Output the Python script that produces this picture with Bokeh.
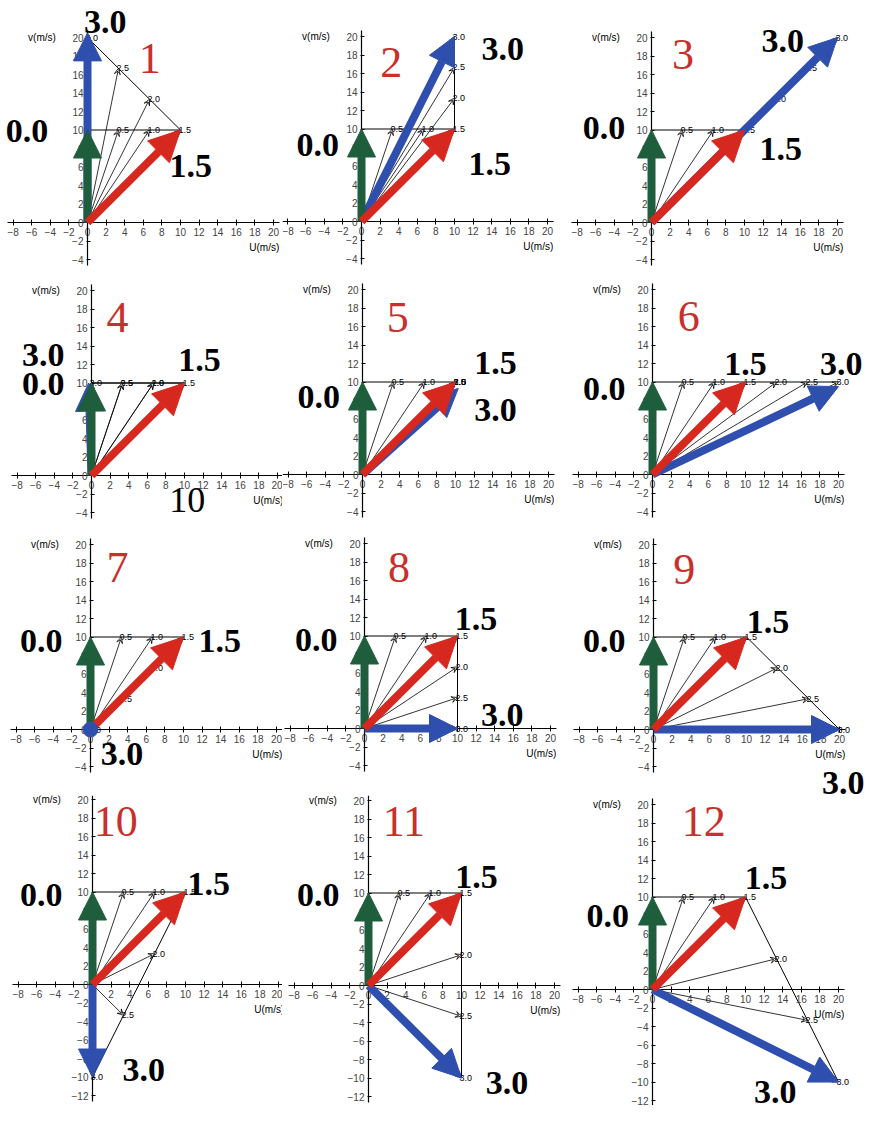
from bokeh.plotting import figure
from bokeh.layouts import column, row
from bokeh.models import (Arrow, NormalHead, VeeHead, ColumnDataSource, Range1d,
                          FixedTicker, LinearAxis)
from bokeh.core.properties import value
from bokeh.embed import file_html
from bokeh.resources import INLINE

# ---------------- data ----------------
panel_names = ["1", "2", "3", "4", "5", "6", "7", "8", "9", "10", "11", "12"]
time_labels = ["0.0", "0.5", "1.0", "1.5", "2.0", "2.5", "3.0"]

hodo_u = [
    [0, 3.33, 6.67, 10, 6.67, 3.33, 0],
    [0, 3.33, 6.67, 10, 10, 10, 10],
    [0, 3.33, 6.67, 10, 13.33, 16.67, 20],
    [0, 3.33, 6.67, 10, 6.67, 3.33, 0],
    [0, 3.33, 6.67, 10, 10, 10, 10],
    [0, 3.33, 6.67, 10, 13.33, 16.67, 20],
    [0, 3.33, 6.67, 10, 6.67, 3.33, 0],
    [0, 3.33, 6.67, 10, 10, 10, 10],
    [0, 3.33, 6.67, 10, 13.33, 16.67, 20],
    [0, 3.33, 6.67, 10, 6.67, 3.33, 0],
    [0, 3.33, 6.67, 10, 10, 10, 10],
    [0, 3.33, 6.67, 10, 13.33, 16.67, 20],
]
hodo_v = [
    [10, 10, 10, 10, 13.33, 16.67, 20],
    [10, 10, 10, 10, 13.33, 16.67, 20],
    [10, 10, 10, 10, 13.33, 16.67, 20],
    [10, 10, 10, 10, 10, 10, 10],
    [10, 10, 10, 10, 10, 10, 10],
    [10, 10, 10, 10, 10, 10, 10],
    [10, 10, 10, 10, 6.67, 3.33, 0],
    [10, 10, 10, 10, 6.67, 3.33, 0],
    [10, 10, 10, 10, 6.67, 3.33, 0],
    [10, 10, 10, 10, 3.33, -3.33, -10],
    [10, 10, 10, 10, 3.33, -3.33, -10],
    [10, 10, 10, 10, 3.33, -3.33, -10],
]
# thick blue arrow tips
blue_tip_u = [0, 10, 20, -0.3, 10.3, 20, 0, 10, 20, 0, 10, 20]
blue_tip_v = [20.5, 20, 20, 10, 9.3, 9.5, 0, 0, 0, -10, -10, -10]

x_ticks = list(range(-8, 21, 2))
y_ticks_rows = [list(range(-4, 21, 2))] * 3 + [list(range(-12, 21, 2))]

# ---------------- layout / style ----------------
BLUE = "#2f4fae"
GREEN = "#1e5e3c"
RED = "#d6281f"
NUM_RED = "#c8302b"
SX, SY = 9.3, 9.25
col_left = [8, 290, 572]
col_w = [282, 282, 300]
row_top = [8, 282, 537, 803]
row_h = [274, 255, 266, 310]
origin_px = [(95, 230), (369, 229), (659, 230),
             (99, 483), (370, 482), (660, 482),
             (98, 737), (372, 736), (661, 737),
             (100, 992), (376, 993), (660, 997)]

# label anchor positions (data units), per panel: number, "0.0", "1.5", "3.0"
label_pos = [
    {"num": (6.7, 17.7), "t0": (-6.5, 9.9), "t15": (11.1, 6.1), "t30": (1.9, 21.7)},
    {"num": (3.2, 17.2), "t0": (-4.7, 8.3), "t15": (13.8, 6.2), "t30": (15.2, 18.6)},
    {"num": (3.4, 18.2), "t0": (-5.1, 10.2), "t15": (13.9, 7.9), "t30": (14.1, 19.6)},
    {"num": (2.8, 17.1), "t0": (-5.2, 9.9), "t15": (11.6, 12.5), "t30": (-5.2, 13.0)},
    {"num": (3.8, 17.0), "t0": (-4.7, 8.4), "t15": (14.3, 12.1), "t30": (14.3, 7.0)},
    {"num": (3.9, 17.1), "t0": (-5.2, 9.2), "t15": (10.0, 12.0), "t30": (20.3, 12.0)},
    {"num": (2.9, 17.5), "t0": (-5.3, 9.6), "t15": (13.9, 9.6), "t30": (3.4, -2.7)},
    {"num": (3.7, 17.4), "t0": (-5.2, 9.6), "t15": (12.0, 11.8), "t30": (14.8, 1.5)},
    {"num": (3.3, 17.3), "t0": (-5.3, 9.6), "t15": (12.3, 11.6), "t30": (20.4, -5.8)},
    {"num": (2.5, 17.6), "t0": (-5.5, 9.7), "t15": (12.5, 10.9), "t30": (5.5, -9.2)},
    {"num": (3.8, 17.7), "t0": (-5.4, 9.8), "t15": (11.6, 11.7), "t30": (14.9, -10.5)},
    {"num": (5.5, 18.2), "t0": (-4.8, 8.0), "t15": (12.2, 12.1), "t30": (13.2, -11.1)},
]
extra_text = {3: ("10", (10.3, -2.7))}

SERIF = value("Liberation Serif")
SANS = value("Liberation Sans")


def thick_arrow(p, x0, y0, x1, y1, color, head=28):
    src = ColumnDataSource(dict(xs=[x0], ys=[y0], xe=[x1], ye=[y1]))
    p.add_layout(Arrow(end=NormalHead(size=head, fill_color=color, line_color=color, line_width=1),
                       x_start="xs", y_start="ys", x_end="xe", y_end="ye", source=src,
                       line_color=color, line_width=8))


def make_panel(k):
    r, c = divmod(k, 3)
    W, H = col_w[c], row_h[r]
    ox = origin_px[k][0] - col_left[c]
    oy = origin_px[k][1] - row_top[r]
    p = figure(width=W, height=H,
               x_range=Range1d(-ox / SX, (W - ox) / SX),
               y_range=Range1d(-(H - oy) / SY, oy / SY),
               output_backend="svg", toolbar_location=None, min_border=0,
               x_axis_type=None, y_axis_type=None, outline_line_color=None,
               background_fill_color="white", border_fill_color="white")
    yt = y_ticks_rows[r]
    xa = LinearAxis(fixed_location=0, ticker=FixedTicker(ticks=x_ticks), bounds=(-8.6, 20.6),
                    major_tick_in=3, major_tick_out=3, minor_tick_line_color=None,
                    major_label_text_font_size="10px", major_label_text_font="Liberation Sans",
                    major_label_standoff=2, axis_line_width=1.2)
    ya = LinearAxis(fixed_location=0, ticker=FixedTicker(ticks=yt), bounds=(yt[0] - 0.6, 20.6),
                    major_tick_in=3, major_tick_out=1, minor_tick_line_color=None,
                    major_label_text_font_size="10px", major_label_text_font="Liberation Sans",
                    major_label_standoff=3, axis_line_width=1.2)
    p.add_layout(xa, "below")
    p.add_layout(ya, "left")

    # axis titles
    p.text(x=[-3.4], y=[20.0], text=["v(m/s)"], text_font=SANS, text_font_size="10px",
           text_align="right", text_baseline="middle", text_color="black")
    p.text(x=[17.4], y=[-2.7], text=["U(m/s)"], text_font=SANS, text_font_size="10px",
           text_align="left", text_baseline="middle", text_color="black")

    u, v = hodo_u[k], hodo_v[k]
    # hodograph path
    p.line(u, v, line_color="black", line_width=1)
    # thin arrows from origin to hodograph points
    xe = [a for a, b in zip(u[1:], v[1:]) if (a, b) != (0, 0)]
    ye = [b for a, b in zip(u[1:], v[1:]) if (a, b) != (0, 0)]
    src = ColumnDataSource(dict(xs=[0] * len(xe), ys=[0] * len(xe), xe=xe, ye=ye))
    p.add_layout(Arrow(end=VeeHead(size=6, line_color="black", line_width=0.8, fill_color="white"),
                       x_start="xs", y_start="ys", x_end="xe", y_end="ye", source=src,
                       line_color="black", line_width=0.8))
    # small time labels
    p.text(x=u[1:], y=v[1:], text=time_labels[1:], text_font=SANS, text_font_size="9px",
           x_offset=-2, text_align="left", text_baseline="middle", text_color="black")

    # thick arrows: blue (t=3.0), green (t=0.0), red (t=1.5)
    bu, bv = blue_tip_u[k], blue_tip_v[k]
    if (bu, bv) == (0, 0):
        p.scatter(x=[bu], y=[bv], size=15, color=BLUE, level="overlay")
    else:
        thick_arrow(p, 0, 0, bu, bv, BLUE)
    thick_arrow(p, 0, 0, u[0], v[0], GREEN)
    thick_arrow(p, 0, 0, u[3], v[3], RED, head=31)

    lp = label_pos[k]
    p.text(x=[lp["num"][0]], y=[lp["num"][1]], text=[panel_names[k]], text_font=SERIF,
           text_font_size="44px", text_color=NUM_RED, text_align="center",
           text_baseline="middle", level="overlay")
    for key, txt in [("t0", time_labels[0]), ("t15", time_labels[3]), ("t30", time_labels[6])]:
        p.text(x=[lp[key][0]], y=[lp[key][1]], text=[txt], text_font=SERIF,
               text_font_style="bold", text_font_size="34px", text_color="black",
               text_align="center", text_baseline="middle", level="overlay")
    if k in extra_text:
        t, (ex, ey) = extra_text[k]
        p.text(x=[ex], y=[ey], text=[t], text_font=SERIF, text_font_size="36px",
               text_color="black", text_align="center", text_baseline="middle", level="overlay")
    return p


panels = [make_panel(k) for k in range(12)]
layout = column(*[row(*panels[3 * r:3 * r + 3], spacing=0) for r in range(4)], spacing=0)

open("out.html", "w").write(file_html(layout, INLINE))
